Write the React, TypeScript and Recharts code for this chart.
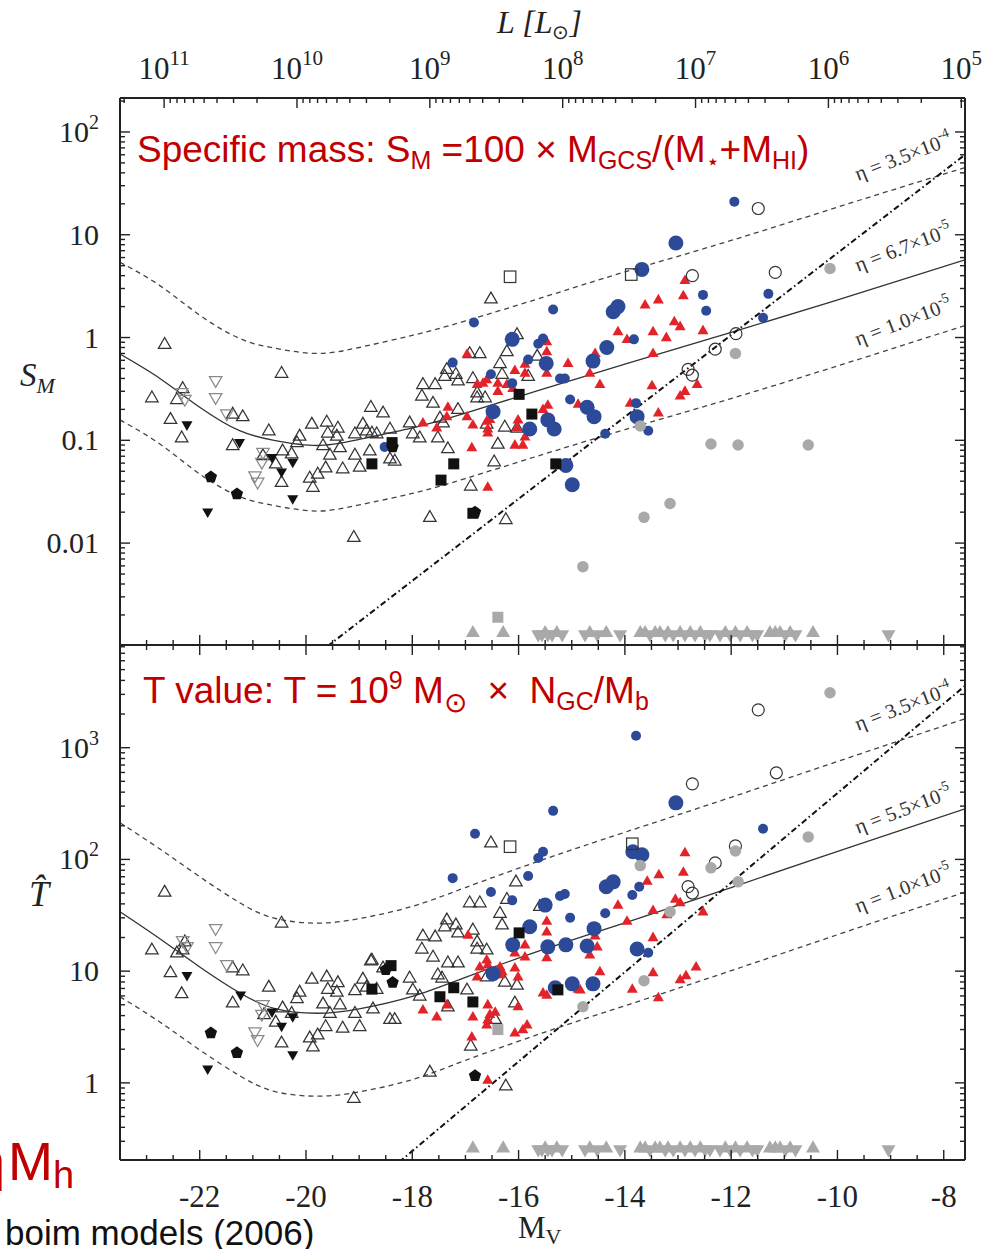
import { ComposedChart, Line, Scatter, XAxis, YAxis } from "recharts";

type Pt = [number, number];

// ---- values: [M_V, S_M] (top) and [M_V, T] (bottom) ----

const topOpenTri: Pt[] = [
  [-22.66, 0.86], [-22.9, 0.26], [-22.55, 0.16], [-22.43, 0.25], [-22.32, 0.32], [-22.34, 0.106],
  [-21.38, 0.18], [-21.19, 0.17], [-21.38, 0.089], [-20.46, 0.45], [-20.7, 0.124], [-20.81, 0.071],
  [-20.57, 0.059], [-20.46, 0.039], [-20.44, 0.079], [-20.27, 0.074], [-20.12, 0.11], [-20.17, 0.095],
  [-19.89, 0.144], [-19.61, 0.151], [-19.4, 0.132], [-19.59, 0.118], [-19.42, 0.11], [-19.68, 0.089],
  [-19.55, 0.072], [-19.36, 0.085], [-19.08, 0.116], [-18.93, 0.144], [-18.86, 0.124], [-18.67, 0.116],
  [-18.55, 0.185], [-18.78, 0.21], [-18.42, 0.129], [-19.08, 0.072], [-18.99, 0.055], [-19.31, 0.053],
  [-19.63, 0.054], [-19.78, 0.047], [-19.93, 0.043], [-19.87, 0.035], [-18.8, 0.079], [-18.42, 0.066],
  [-18.33, 0.063], [-19.1, 0.0114], [-18.05, 0.148], [-17.99, 0.116], [-17.86, 0.106], [-17.52, 0.106],
  [-17.61, 0.23], [-17.82, 0.27], [-17.8, 0.35], [-17.57, 0.35], [-17.35, 0.49], [-17.39, 0.42],
  [-17.18, 0.44], [-17.14, 0.38], [-16.86, 0.4], [-16.73, 0.7], [-16.35, 0.56], [-16.22, 0.73],
  [-16.31, 0.44], [-16.78, 0.29], [-16.78, 0.26], [-16.63, 0.26], [-17.14, 0.2], [-17.48, 0.165],
  [-17.33, 0.083], [-16.6, 0.144], [-16.39, 0.092], [-16.26, 0.135], [-16.03, 0.132], [-15.82, 0.42],
  [-16.46, 0.062], [-16.9, 0.036], [-17.67, 0.0178], [-16.24, 0.017], [-16.52, 2.38], [-16.03, 1.07],
  [-15.65, 0.66], [-16.92, 0.7], [-18.76, 0.118], [-17.42, 0.148],
];
const topGrayOpenDTri: Pt[] = [
  [-22.34, 0.29], [-22.28, 0.25], [-21.7, 0.38], [-21.7, 0.26], [-21.49, 0.18],
  [-20.81, 0.076], [-20.83, 0.061], [-20.96, 0.045], [-20.91, 0.039],
];
const topDTri: Pt[] = [
  [-22.24, 0.141], [-21.25, 0.095], [-20.64, 0.068], [-20.46, 0.049], [-20.25, 0.061], [-20.25, 0.027], [-21.85, 0.02],
];
const topPent: Pt[] = [[-21.79, 0.044], [-21.3, 0.03], [-18.37, 0.086], [-16.82, 0.02]];
const topSquare: Pt[] = [
  [-18.76, 0.059], [-18.38, 0.095], [-17.22, 0.059], [-17.46, 0.041], [-16.86, 0.0195],
  [-15.99, 0.28], [-15.75, 0.18], [-15.3, 0.059],
];
const topOpenSquare: Pt[] = [[-16.16, 3.9], [-13.88, 4.1]];
const topOpenCircle: Pt[] = [
  [-11.49, 18], [-12.73, 4.0], [-11.17, 4.3], [-11.91, 1.09], [-12.3, 0.77], [-12.81, 0.49], [-12.73, 0.43],
];
const topGrayCircle: Pt[] = [
  [-10.14, 4.7], [-11.92, 0.7], [-13.71, 0.138], [-12.38, 0.092], [-11.87, 0.09], [-10.55, 0.09],
  [-13.15, 0.0243], [-13.64, 0.0178], [-14.79, 0.0059],
];
const topGraySquare: Pt[] = [[-16.39, 0.0019]];
const topBlueSmall: Pt[] = [
  [-11.94, 21], [-15.35, 1.87], [-12.53, 2.6], [-12.47, 1.82], [-11.3, 2.66], [-11.4, 1.56], [-13.83, 0.96],
  [-15.63, 0.87], [-15.54, 0.98], [-15.82, 0.61], [-16.84, 1.4], [-17.24, 0.57], [-16.52, 0.44],
  [-16.12, 0.36], [-18.52, 0.086], [-15.22, 0.4], [-15.13, 0.4], [-15.03, 0.25], [-14.37, 0.116],
  [-13.56, 0.124], [-13.79, 0.23],
];
const topBlueLarge: Pt[] = [
  [-13.04, 8.3], [-13.68, 4.6], [-14.22, 1.78], [-14.13, 2.0], [-16.12, 0.96], [-15.48, 0.56], [-14.6, 0.59],
  [-14.34, 0.8], [-16.48, 0.19], [-15.79, 0.129], [-15.45, 0.158], [-15.33, 0.129], [-14.71, 0.21],
  [-14.58, 0.17], [-15.11, 0.057], [-14.99, 0.037], [-13.77, 0.17],
];
const topRedTri: Pt[] = [
  [-16.97, 0.69], [-16.78, 0.35], [-16.67, 0.36], [-16.6, 0.39], [-16.39, 0.36], [-16.39, 0.3], [-16.22, 0.35],
  [-16.07, 0.48], [-15.88, 0.55], [-15.88, 0.45], [-15.47, 0.45], [-15.47, 0.73], [-15.47, 0.91],
  [-16.11, 0.32], [-17.33, 0.21], [-17.35, 0.17], [-17.54, 0.132], [-17.8, 0.148], [-16.97, 0.17],
  [-16.86, 0.141], [-16.6, 0.154], [-16.58, 0.129], [-16.58, 0.118], [-16.01, 0.158], [-16.03, 0.132],
  [-15.88, 0.108], [-16.07, 0.09], [-15.92, 0.09], [-16.88, 0.085], [-16.58, 0.035], [-15.54, 0.2],
  [-15.45, 0.22], [-15.07, 0.56], [-14.66, 0.45], [-14.56, 0.7], [-14.47, 0.35], [-14.13, 1.14],
  [-13.96, 0.96], [-13.47, 1.14], [-13.22, 1.0], [-13.07, 1.43], [-12.96, 1.28], [-12.53, 1.17],
  [-13.47, 0.7], [-13.62, 2.08], [-13.37, 2.33], [-12.9, 2.55], [-12.87, 3.6], [-13.49, 0.34],
  [-13.9, 0.23], [-14.88, 0.225], [-13.37, 0.185], [-12.96, 0.27], [-12.87, 0.3], [-12.64, 0.35], [-16.54, 0.16],
];

// upper limits drawn along the floor of both panels
const limitUpM = [
  -16.86, -16.29, -15.5, -15.28, -14.66, -14.35, -13.71, -13.62, -13.43, -13.34, -13.19, -12.96,
  -12.77, -12.58, -12.11, -11.92, -11.7, -11.27, -11.17, -11.08, -10.89, -10.46,
];
const limitDownM = [
  -15.63, -15.56, -15.45, -15.37, -15.18, -14.75, -14.52, -14.09, -13.53, -13.24, -13.09, -12.87,
  -12.68, -12.49, -12.4, -12.21, -12.02, -11.83, -11.6, -11.51, -10.98, -10.79, -9.04,
];
const topFloor = { up: 0.00135, down: 0.00128 };
const botFloor = { up: 0.262, down: 0.251 };

const botOpenTri: Pt[] = [
  [-22.66, 51], [-22.9, 15.5], [-22.55, 9.7], [-22.43, 14.6], [-22.32, 15.5], [-22.28, 18.3], [-22.34, 6.3],
  [-21.38, 10.7], [-21.19, 10.1], [-21.38, 5.2], [-20.46, 27], [-20.7, 7.2], [-20.79, 4.1], [-20.57, 3.5],
  [-20.46, 2.28], [-20.44, 4.7], [-20.27, 4.2], [-20.12, 6.5], [-20.17, 5.7], [-19.89, 8.5], [-19.61, 8.9],
  [-19.4, 7.9], [-19.59, 6.9], [-19.42, 6.5], [-19.68, 5.1], [-19.55, 4.2], [-19.36, 5.0], [-19.08, 6.7],
  [-18.93, 8.5], [-18.86, 7.2], [-18.67, 6.9], [-18.78, 12.4], [-18.55, 10.7], [-19.08, 4.2], [-18.99, 3.2],
  [-19.31, 3.1], [-19.63, 3.2], [-19.78, 2.69], [-19.93, 2.53], [-19.87, 2.1], [-18.42, 3.7], [-18.33, 3.7],
  [-19.1, 0.73], [-17.67, 1.25], [-16.24, 0.94], [-16.9, 2.14], [-18.05, 8.7], [-17.99, 6.8], [-17.86, 6.0],
  [-17.52, 9.3], [-17.44, 8.7], [-17.61, 13.4], [-17.82, 15.8], [-17.8, 20.7], [-17.57, 20.3], [-17.35, 28.8],
  [-17.39, 25], [-17.18, 26], [-17.14, 22], [-16.86, 23.4], [-16.73, 41], [-16.92, 41], [-16.35, 33],
  [-16.31, 26], [-16.78, 18.3], [-16.78, 15.8], [-16.6, 15.5], [-17.14, 11.9], [-17.33, 11.9], [-17.33, 4.8],
  [-16.97, 6.8], [-16.44, 3.7], [-16.26, 8.0], [-16.03, 7.5], [-16.07, 5.2], [-16.6, 8.9], [-16.52, 141],
  [-16.05, 63], [-16.22, 44], [-15.6, 38], [-18.76, 12.6], [-18.74, 4.6],
];
const botGrayOpenDTri: Pt[] = [
  [-22.32, 18.7], [-22.24, 16.5], [-21.7, 24], [-21.7, 16.5], [-21.49, 11.4],
  [-20.81, 5.0], [-20.83, 4.1], [-20.96, 2.86], [-20.91, 2.43],
];
const botDTri: Pt[] = [
  [-22.24, 9.1], [-21.23, 6.1], [-21.85, 1.33], [-20.64, 4.3], [-20.46, 3.2], [-20.25, 3.9], [-20.25, 1.78],
];
const botPent: Pt[] = [[-21.79, 2.8], [-21.3, 1.86], [-18.37, 7.9], [-18.5, 10.3], [-16.82, 1.16]];
const botSquare: Pt[] = [
  [-18.4, 11.2], [-18.76, 6.9], [-17.48, 5.9], [-17.22, 7.1], [-16.86, 5.3], [-15.99, 22], [-15.26, 6.8],
];
const botOpenSquare: Pt[] = [[-16.16, 130], [-13.86, 138]];
const botOpenCircle: Pt[] = [
  [-11.49, 2180], [-12.73, 475], [-11.15, 596], [-11.92, 132], [-12.3, 93], [-12.81, 57], [-12.73, 50],
];
const botGrayCircle: Pt[] = [
  [-10.14, 3100], [-13.71, 88], [-11.92, 119], [-12.38, 84], [-10.55, 159], [-11.87, 63],
  [-13.15, 34], [-13.64, 8.2], [-14.79, 4.8],
];
const botGraySquare: Pt[] = [[-16.39, 3.0]];
const botBlueSmall: Pt[] = [
  [-13.79, 1280], [-15.35, 272], [-11.4, 188], [-16.82, 170], [-15.54, 117], [-15.63, 103], [-17.24, 68],
  [-15.82, 71], [-16.52, 51], [-16.12, 43], [-15.22, 47], [-15.13, 49], [-13.73, 57], [-13.86, 48],
  [-15.03, 30], [-14.37, 33], [-13.56, 14.6],
];
const botBlueLarge: Pt[] = [
  [-13.04, 321], [-13.68, 110], [-13.85, 117], [-14.35, 57], [-14.22, 63], [-15.5, 39], [-15.79, 25],
  [-16.11, 17.2], [-15.45, 16.5], [-15.11, 17.2], [-14.71, 16.8], [-14.58, 24], [-16.48, 9.5],
  [-15.31, 7.1], [-14.99, 7.7], [-14.6, 7.7], [-13.77, 15.8],
];
const botRedTri: Pt[] = [
  [-16.95, 21], [-15.47, 28], [-15.47, 22.5], [-15.88, 17.2], [-15.47, 13.2], [-16.07, 14.6], [-15.88, 13.4],
  [-16.6, 12.6], [-16.73, 10.9], [-16.58, 11.4], [-16.35, 10.9], [-16.07, 10.7], [-16.01, 8.9], [-16.35, 9.3],
  [-16.78, 8.9], [-16.31, 9.9], [-14.47, 9.9], [-14.52, 16.5], [-14.66, 14.0], [-14.84, 6.8], [-15.54, 6.4],
  [-15.47, 6.1], [-17.8, 4.5], [-17.54, 3.9], [-17.35, 5.0], [-16.86, 3.9], [-16.58, 5.0], [-16.54, 4.1],
  [-16.58, 3.66], [-16.44, 4.3], [-16.6, 3.3], [-16.01, 4.8], [-16.07, 2.8], [-15.92, 3.0], [-15.84, 3.3],
  [-16.88, 2.58], [-16.58, 1.06], [-12.87, 115], [-12.9, 77], [-13.36, 73], [-13.58, 64], [-13.05, 44],
  [-12.96, 41], [-14.13, 39], [-13.47, 35], [-13.21, 32], [-13.96, 28], [-12.53, 34], [-13.47, 20],
  [-14.56, 20.7], [-13.47, 9.7], [-13.86, 6.9], [-13.37, 5.8], [-12.96, 8.4], [-12.85, 9.1], [-12.66, 10.9],
  [-14.88, 6.9],
];

// model curves
const topEta67: Pt[] = [
  [-23.5, 0.69], [-22.75, 0.4], [-22, 0.21], [-21.25, 0.124], [-20.6, 0.1], [-19.8, 0.089], [-19, 0.102],
  [-18, 0.132], [-17, 0.184], [-15.5, 0.32], [-14, 0.55], [-12, 1.12], [-9.8, 2.5], [-7.6, 5.7],
];
const topEta350: Pt[] = [
  [-23.5, 5.4], [-22.75, 3.2], [-22, 1.65], [-21.25, 0.98], [-20.6, 0.79], [-19.8, 0.7], [-19, 0.8],
  [-18, 1.05], [-17, 1.45], [-15.5, 2.5], [-14, 4.35], [-12, 8.8], [-9.8, 20], [-7.6, 45],
];
const topEta10: Pt[] = [
  [-23.5, 0.158], [-22.75, 0.092], [-22, 0.047], [-21.25, 0.0284], [-20.6, 0.0232], [-19.8, 0.0205],
  [-19, 0.0235], [-18, 0.0304], [-17, 0.0425], [-15.5, 0.074], [-14, 0.127], [-12, 0.255], [-9.8, 0.57],
  [-7.6, 1.31],
];
const topDashDot: Pt[] = [[-19.6, 0.00099], [-7.6, 60]];

const botEta55: Pt[] = [
  [-23.5, 34], [-22.75, 19.5], [-22, 10.9], [-21.25, 6.4], [-20.6, 4.65], [-19.8, 4.2], [-19, 4.6],
  [-18, 5.95], [-17, 8.8], [-15.5, 15.8], [-14, 27], [-12, 56], [-9.8, 127], [-7.6, 284],
];
const botEta350: Pt[] = [
  [-23.5, 213], [-22.75, 124], [-22, 70], [-21.25, 41], [-20.6, 29.8], [-19.8, 26.9], [-19, 29.5],
  [-18, 38], [-17, 56], [-15.5, 101], [-14, 175], [-12, 360], [-9.8, 810], [-7.6, 1815],
];
const botEta10: Pt[] = [
  [-23.5, 5.9], [-22.75, 3.5], [-22, 1.97], [-21.25, 1.16], [-20.6, 0.84], [-19.8, 0.76], [-19, 0.83],
  [-18, 1.07], [-17, 1.59], [-15.5, 2.85], [-14, 4.9], [-12, 10.1], [-9.8, 22.8], [-7.6, 51],
];
const botDashDot: Pt[] = [[-18.25, 0.195], [-7.6, 3580]];

// ---- axes ----
const X_MIN = -23.5;
const X_MAX = -7.6;
const TOP_Y: [number, number] = [0.00102, 214];
const BOT_Y: [number, number] = [0.204, 8300];
const M_SUN = 4.83;

const colors = {
  ink: "#222",
  red: "#e2242a",
  blue: "#2d4a98",
  gray: "#a9a9a9",
  grayLine: "#8a8a8a",
  title: "#c00000",
};
const SERIF = "'Liberation Serif', 'Times New Roman', serif";
const SANS = "'Liberation Sans', Arial, sans-serif";

const magTicks: number[] = [];
for (let m = -23.5; m <= -8; m += 0.5) magTicks.push(m);

const lumTicks: number[] = [];
for (let d = 4; d <= 11; d++)
  for (let k = 1; k <= 9; k++) {
    const m = M_SUN - 2.5 * (d + Math.log10(k));
    if (m >= X_MIN && m <= X_MAX) lumTicks.push(m);
  }

function logTicks([lo, hi]: [number, number]) {
  const t: number[] = [];
  for (let d = Math.floor(Math.log10(lo)); d <= Math.ceil(Math.log10(hi)); d++)
    for (let k = 1; k <= 9; k++) {
      const v = k * Math.pow(10, d);
      if (v >= lo && v <= hi) t.push(v);
    }
  return t;
}

const isInt = (v: number) => Math.abs(v - Math.round(v)) < 1e-6;
const isEvenMag = (v: number) => isInt(v / 2);
const isLumDecade = (v: number) => isInt((M_SUN - v) / 2.5);
const isDecade = (v: number) => isInt(Math.log10(v));

type Side = "left" | "right" | "top" | "bottom";
type Lab = (v: number, x: number, y: number) => any;

function tickRenderer(side: Side, isMajor: (v: number) => boolean, label?: Lab) {
  return (props: any) => {
    const { x, y, payload } = props;
    const v = payload?.value;
    const major = isMajor(v);
    const len = major ? 10 : 5;
    let x2 = x;
    let y2 = y;
    if (side === "left") x2 = x + len;
    if (side === "right") x2 = x - len;
    if (side === "top") y2 = y + len;
    if (side === "bottom") y2 = y - len;
    return (
      <g>
        <line x1={x} y1={y} x2={x2} y2={y2} stroke={colors.ink} strokeWidth={1.4} />
        {major && label ? label(v, x, y) : null}
      </g>
    );
  };
}

const magLabel: Lab = (v, x, y) => (
  <text x={x} y={y + 47} textAnchor="middle" fontFamily={SERIF} fontSize={31} fill={colors.ink}>
    {String(v)}
  </text>
);

const lumLabel: Lab = (v, x, y) => (
  <text x={x} y={y - 19} textAnchor="middle" fontFamily={SERIF} fontSize={31} fill={colors.ink}>
    10
    <tspan dy={-14} fontSize={21}>
      {Math.round((M_SUN - v) / 2.5)}
    </tspan>
  </text>
);

const yLabel: Lab = (v, x, y) => {
  const e = Math.round(Math.log10(v));
  return (
    <text x={x - 21} y={y + 10} textAnchor="end" fontFamily={SERIF} fontSize={30} fill={colors.ink}>
      {e >= 1 ? "10" : e === 0 ? "1" : v.toFixed(-e)}
      {e >= 2 ? (
        <tspan dy={-13} fontSize={20}>
          {e}
        </tspan>
      ) : null}
    </text>
  );
};

// ---- markers ----
type Kind = "tri" | "dtri" | "circle" | "square" | "pent";

function marker(kind: Kind, size: number, fill: string, stroke = "none", sw = 1.2) {
  return (p: any) => {
    const { cx, cy } = p;
    if (!Number.isFinite(cx) || !Number.isFinite(cy)) return <g />;
    const r = size / 2;
    if (kind === "circle")
      return <circle cx={cx} cy={cy} r={r} fill={fill} stroke={stroke} strokeWidth={sw} />;
    if (kind === "square")
      return <rect x={cx - r} y={cy - r} width={size} height={size} fill={fill} stroke={stroke} strokeWidth={sw} />;
    let pts = "";
    if (kind === "tri" || kind === "dtri") {
      const h = size * 0.866;
      const s = kind === "tri" ? 1 : -1;
      pts = `${cx},${cy - s * h * 0.62} ${cx - r},${cy + s * h * 0.38} ${cx + r},${cy + s * h * 0.38}`;
    } else {
      pts = [0, 1, 2, 3, 4]
        .map((i) => {
          const a = -Math.PI / 2 + (i * 2 * Math.PI) / 5;
          return `${cx + r * Math.cos(a)},${cy + r * Math.sin(a)}`;
        })
        .join(" ");
    }
    return <polygon points={pts} fill={fill} stroke={stroke} strokeWidth={sw} />;
  };
}

const shapes = {
  openTri: marker("tri", 12.5, "none", "#333", 1.25),
  grayOpenDTri: marker("dtri", 12.5, "none", colors.grayLine, 1.25),
  dTri: marker("dtri", 11, "#111"),
  redTri: marker("tri", 11, colors.red),
  blueSmall: marker("circle", 10, colors.blue),
  blueLarge: marker("circle", 15, colors.blue),
  square: marker("square", 11, "#111"),
  pent: marker("pent", 13, "#111"),
  openSquare: marker("square", 11.5, "none", "#333", 1.2),
  openCircle: marker("circle", 12, "none", "#333", 1.2),
  grayCircle: marker("circle", 11.5, colors.gray),
  graySquare: marker("square", 11, colors.gray),
  grayUp: marker("tri", 14, colors.gray),
  grayDown: marker("dtri", 14, colors.gray),
};

const xy = (arr: Pt[]) => arr.map(([x, y]) => ({ x, y }));
const floorPts = (ms: number[], y: number) => ms.map((x) => ({ x, y }));

type Curve = { data: Pt[]; dash?: string; width?: number; color?: string; kind?: "natural" | "linear" };
type Series = { data: { x: number; y: number }[]; shape: any };

// plot box: x 120..965; axes are 1px thick, so margins are one pixel short
function Panel({
  plotTop,
  plotBottom,
  yDomain,
  lumTop,
  magLabels,
  curves,
  series,
}: {
  plotTop: number;
  plotBottom: number;
  yDomain: [number, number];
  lumTop: boolean;
  magLabels: boolean;
  curves: Curve[];
  series: Series[];
}) {
  const frame = { stroke: colors.ink, strokeWidth: 2 };
  const yTicks = logTicks(yDomain);
  const axisCommon = {
    interval: 0 as const,
    tickSize: 0,
    tickMargin: 0,
    tickLine: false,
    axisLine: frame,
    allowDataOverflow: true,
  };
  return (
    <div style={{ position: "absolute", left: 0, top: 0 }}>
      <ComposedChart
        width={992}
        height={1249}
        margin={{ top: plotTop - 1, right: 992 - 965 - 1, bottom: 1249 - plotBottom - 1, left: 120 - 1 }}
      >
        <XAxis
          {...axisCommon}
          xAxisId="b"
          dataKey="x"
          type="number"
          domain={[X_MIN, X_MAX]}
          orientation="bottom"
          height={1}
          ticks={magTicks}
          tick={tickRenderer("bottom", isEvenMag, magLabels ? magLabel : undefined)}
        />
        <XAxis
          {...axisCommon}
          xAxisId="t"
          dataKey="x"
          type="number"
          domain={[X_MIN, X_MAX]}
          orientation="top"
          height={1}
          ticks={lumTop ? lumTicks : magTicks}
          tick={lumTop ? tickRenderer("top", isLumDecade, lumLabel) : tickRenderer("top", isEvenMag)}
        />
        <YAxis
          {...axisCommon}
          yAxisId="l"
          dataKey="y"
          type="number"
          scale="log"
          domain={yDomain}
          orientation="left"
          width={1}
          ticks={yTicks}
          tick={tickRenderer("left", isDecade, yLabel)}
        />
        <YAxis
          {...axisCommon}
          yAxisId="r"
          dataKey="y"
          type="number"
          scale="log"
          domain={yDomain}
          orientation="right"
          width={1}
          ticks={yTicks}
          tick={tickRenderer("right", isDecade)}
        />
        {curves.map((c, i) => (
          <Line
            key={`c${i}`}
            xAxisId="b"
            yAxisId="l"
            data={xy(c.data)}
            dataKey="y"
            type={c.kind ?? "natural"}
            stroke={c.color ?? "#333"}
            strokeWidth={c.width ?? 1.3}
            strokeDasharray={c.dash}
            dot={false}
            activeDot={false}
            isAnimationActive={false}
          />
        ))}
        {series.map((s, i) => (
          <Scatter key={`s${i}`} xAxisId="b" yAxisId="l" data={s.data} shape={s.shape} isAnimationActive={false} />
        ))}
        <Scatter xAxisId="t" yAxisId="r" data={[{ x: -15, y: 1 }]} shape={() => <g />} isAnimationActive={false} />
      </ComposedChart>
    </div>
  );
}

function curveSet(mid: Pt[], hi: Pt[], lo: Pt[], dd: Pt[]): Curve[] {
  return [
    { data: mid },
    { data: hi, dash: "5 4", color: "#444" },
    { data: lo, dash: "5 4", color: "#444" },
    { data: dd, dash: "6 3 1.5 3", width: 2, color: "#111", kind: "linear" },
  ];
}

const topSeries: Series[] = [
  { data: xy(topOpenTri), shape: shapes.openTri },
  { data: xy(topGrayOpenDTri), shape: shapes.grayOpenDTri },
  { data: xy(topRedTri), shape: shapes.redTri },
  { data: xy(topBlueSmall), shape: shapes.blueSmall },
  { data: xy(topBlueLarge), shape: shapes.blueLarge },
  { data: xy(topDTri), shape: shapes.dTri },
  { data: xy(topSquare), shape: shapes.square },
  { data: xy(topPent), shape: shapes.pent },
  { data: xy(topOpenSquare), shape: shapes.openSquare },
  { data: xy(topOpenCircle), shape: shapes.openCircle },
  { data: xy(topGrayCircle), shape: shapes.grayCircle },
  { data: xy(topGraySquare), shape: shapes.graySquare },
  { data: floorPts(limitUpM, topFloor.up), shape: shapes.grayUp },
  { data: floorPts(limitDownM, topFloor.down), shape: shapes.grayDown },
];

const botSeries: Series[] = [
  { data: xy(botOpenTri), shape: shapes.openTri },
  { data: xy(botGrayOpenDTri), shape: shapes.grayOpenDTri },
  { data: xy(botRedTri), shape: shapes.redTri },
  { data: xy(botBlueSmall), shape: shapes.blueSmall },
  { data: xy(botBlueLarge), shape: shapes.blueLarge },
  { data: xy(botDTri), shape: shapes.dTri },
  { data: xy(botSquare), shape: shapes.square },
  { data: xy(botPent), shape: shapes.pent },
  { data: xy(botOpenSquare), shape: shapes.openSquare },
  { data: xy(botOpenCircle), shape: shapes.openCircle },
  { data: xy(botGrayCircle), shape: shapes.grayCircle },
  { data: xy(botGraySquare), shape: shapes.graySquare },
  { data: floorPts(limitUpM, botFloor.up), shape: shapes.grayUp },
  { data: floorPts(limitDownM, botFloor.down), shape: shapes.grayDown },
];

function EtaLabel({ x, y, value, exp }: { x: number; y: number; value: string; exp: string }) {
  return (
    <text transform={`translate(${x},${y}) rotate(-21)`} fontFamily={SERIF} fontSize={20.5} fill="#333">
      η = {value}×10
      <tspan dy={-9} fontSize={14}>
        {exp}
      </tspan>
    </text>
  );
}

function Overlay() {
  const sub = { fontSize: 25 };
  return (
    <svg
      width={992}
      height={1249}
      style={{ position: "absolute", left: 0, top: 0, pointerEvents: "none", overflow: "hidden" }}
    >
      <text x={497} y={33} fontFamily={SERIF} fontSize={32} fontStyle="italic" fill={colors.ink}>
        L [L
        <tspan fontSize={20} dy={6} fontStyle="normal">
          ⊙
        </tspan>
        <tspan dy={-6}>]</tspan>
      </text>
      <text x={20} y={386} fontFamily={SERIF} fontSize={33} fontStyle="italic" fill={colors.ink}>
        S
        <tspan fontSize={22} dy={7}>
          M
        </tspan>
      </text>
      <text x={29} y={906} fontFamily={SERIF} fontSize={36} fontStyle="italic" fill={colors.ink}>
        {"T\u0302"}
      </text>
      <text x={518} y={1238} fontFamily={SERIF} fontSize={31} fill={colors.ink}>
        M
        <tspan fontSize={22} dy={6}>
          V
        </tspan>
      </text>

      <text x={137} y={162} fontFamily={SANS} fontSize={37} fill={colors.title} style={{ whiteSpace: "pre" }}>
        Specific mass: S
        <tspan {...sub} dy={7}>M</tspan>
        <tspan dy={-7}> =100 × M</tspan>
        <tspan {...sub} dy={7}>GCS</tspan>
        <tspan dy={-7}>/(M</tspan>
        <tspan fontSize={22} dy={7}>⋆</tspan>
        <tspan dy={-7}>+M</tspan>
        <tspan {...sub} dy={7}>HI</tspan>
        <tspan dy={-7}>)</tspan>
      </text>
      <text x={143} y={703} fontFamily={SANS} fontSize={37} fill={colors.title} style={{ whiteSpace: "pre" }}>
        T value: T = 10
        <tspan {...sub} dy={-14}>9</tspan>
        <tspan dy={14}> M</tspan>
        <tspan fontSize={28} dy={9}>⊙</tspan>
        <tspan dy={-9}>  ×  N</tspan>
        <tspan {...sub} dy={7}>GC</tspan>
        <tspan dy={-7}>/M</tspan>
        <tspan {...sub} dy={7}>b</tspan>
      </text>

      <EtaLabel x={858} y={181} value="3.5" exp="-4" />
      <EtaLabel x={858} y={272} value="6.7" exp="-5" />
      <EtaLabel x={858} y={346} value="1.0" exp="-5" />
      <EtaLabel x={858} y={731} value="3.5" exp="-4" />
      <EtaLabel x={858} y={834} value="5.5" exp="-5" />
      <EtaLabel x={858} y={913} value="1.0" exp="-5" />

      <text x={-25} y={1180} fontFamily={SANS} fontSize={54} fill={colors.title}>
        η
      </text>
      <text x={8} y={1180} fontFamily={SANS} fontSize={54} fill={colors.title}>
        M
        <tspan fontSize={38} dy={8}>
          h
        </tspan>
      </text>
      <text x={5} y={1245} fontFamily={SANS} fontSize={35} fill="#111">
        boim models (2006)
      </text>
    </svg>
  );
}

export default function App() {
  return (
    <div
      style={{
        position: "absolute",
        left: 0,
        top: 0,
        width: 992,
        height: 1249,
        background: "#fff",
        overflow: "hidden",
      }}
    >
      <Panel
        plotTop={98}
        plotBottom={645}
        yDomain={TOP_Y}
        lumTop
        magLabels={false}
        curves={curveSet(topEta67, topEta350, topEta10, topDashDot)}
        series={topSeries}
      />
      <Panel
        plotTop={645}
        plotBottom={1160}
        yDomain={BOT_Y}
        lumTop={false}
        magLabels
        curves={curveSet(botEta55, botEta350, botEta10, botDashDot)}
        series={botSeries}
      />
      <Overlay />
    </div>
  );
}
